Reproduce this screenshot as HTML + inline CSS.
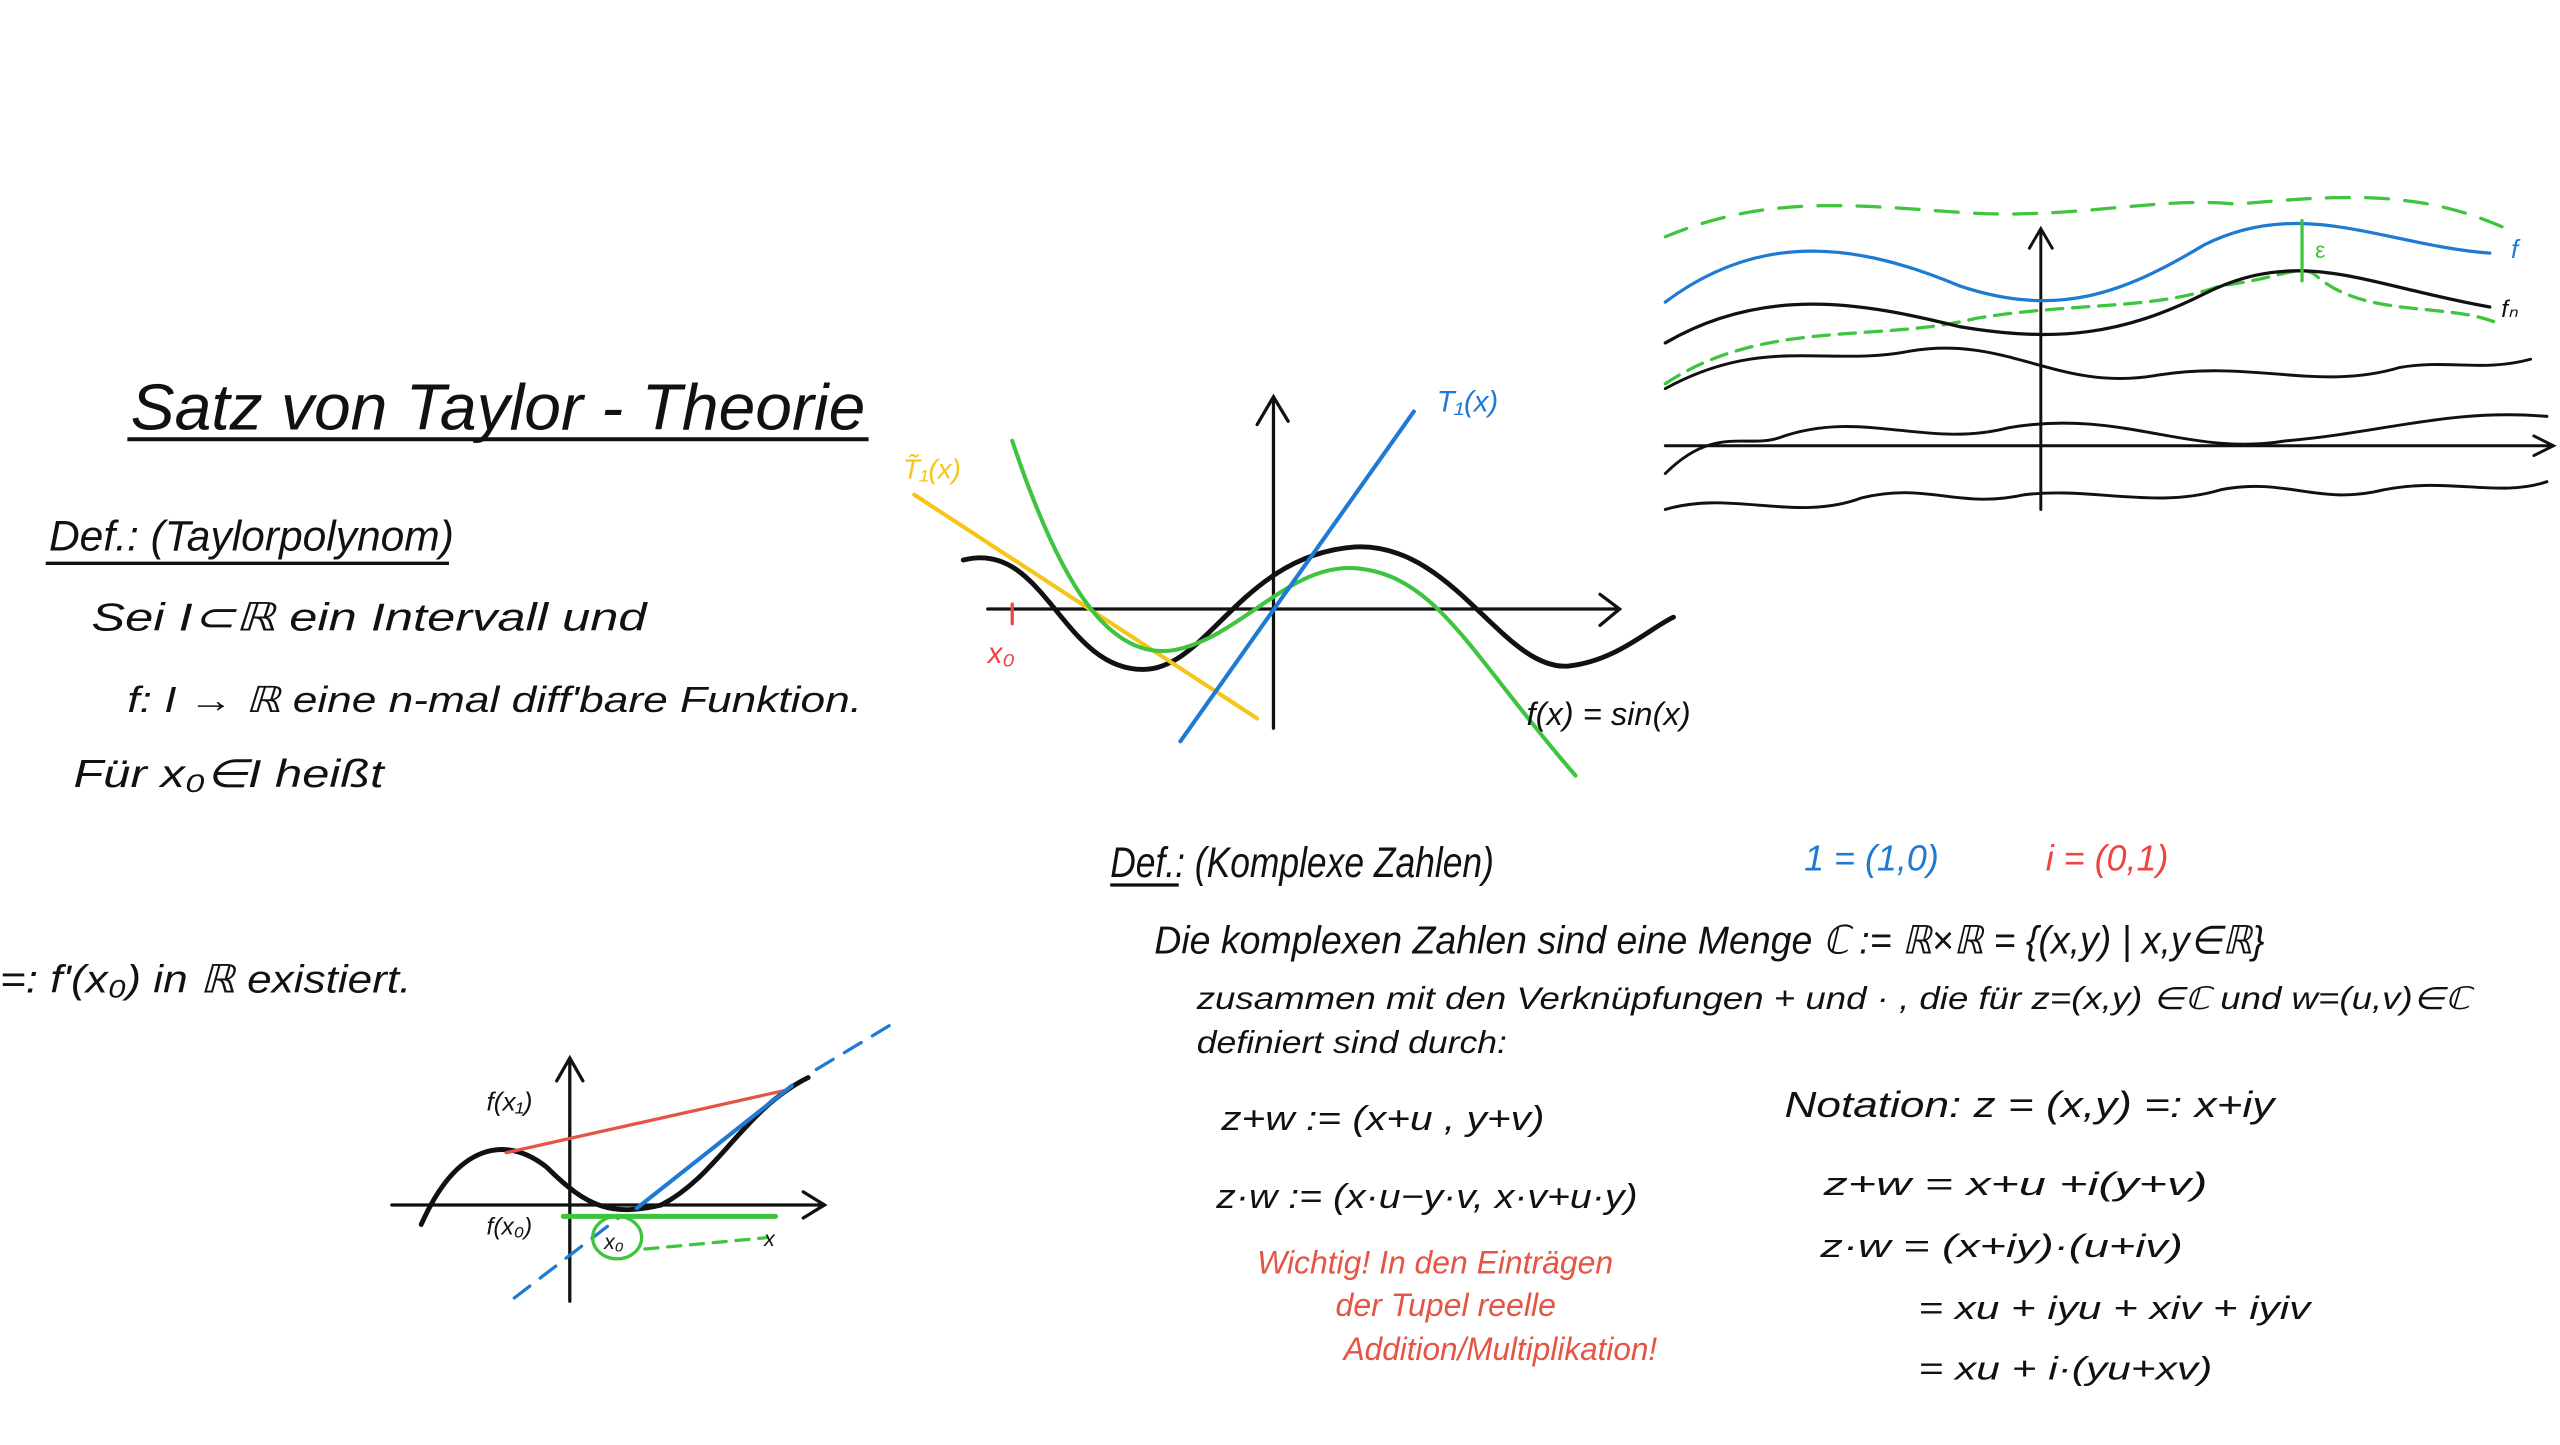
<!DOCTYPE html>
<html><head><meta charset="utf-8"><style>
html,body{margin:0;padding:0;background:#fff;}
svg{display:block}
text{font-family:"Liberation Sans",sans-serif;fill:#111;}
</style></head><body>
<svg width="2560" height="1445" viewBox="0 0 1568 885" xmlns="http://www.w3.org/2000/svg">
<rect width="1568" height="885" fill="#fff"/>
<!-- Title -->
<text x="80" y="263" font-size="40" font-style="italic" textLength="450" lengthAdjust="spacingAndGlyphs">Satz von Taylor - Theorie</text>
<line x1="78" y1="269" x2="532" y2="269" stroke="#111" stroke-width="2.5"/>
<text x="30" y="337" font-size="26" font-style="italic" textLength="248" lengthAdjust="spacingAndGlyphs">Def.: (Taylorpolynom)</text>
<line x1="28" y1="345" x2="275" y2="345" stroke="#111" stroke-width="2"/>
<text x="56" y="386" font-size="24" font-style="italic" textLength="340" lengthAdjust="spacingAndGlyphs">Sei I⊂ℝ ein Intervall und</text>
<text x="78" y="436" font-size="22" font-style="italic" textLength="450" lengthAdjust="spacingAndGlyphs">f: I → ℝ eine n-mal diff'bare Funktion.</text>
<text x="45" y="482" font-size="24" font-style="italic" textLength="190" lengthAdjust="spacingAndGlyphs">Für x₀∈I heißt</text>
<text x="0" y="608" font-size="24" font-style="italic" textLength="252" lengthAdjust="spacingAndGlyphs">=: f'(x₀)  in ℝ existiert.</text>

<!-- Middle graph -->
<g fill="none" stroke-linecap="round">
<path d="M780 446 L780 245 M770 260 L780 243 L789 258" stroke="#111" stroke-width="2"/>
<path d="M605 373 L990 373 M980 364 L992 373 L980 383" stroke="#111" stroke-width="2"/>
<path d="M590 343 C640 330 650 410 700 410 C740 410 760 340 830 335 C890 332 920 410 960 408 C990 405 1010 385 1025 378" stroke="#111" stroke-width="3"/>
<path d="M560 303 L770 440" stroke="#f5c518" stroke-width="2.5"/>
<path d="M620 270 C650 360 680 405 720 398 C760 390 790 345 830 348 C880 352 900 400 965 475" stroke="#3ec43e" stroke-width="2.5"/>
<path d="M723 454 L866 252" stroke="#1f7ad4" stroke-width="2.5"/>
<path d="M620 370 L620 382" stroke="#e44" stroke-width="2"/>
</g>
<text x="880" y="252" font-size="18" fill="#1f7ad4" style="fill:#1f7ad4" font-style="italic">T₁(x)</text>
<text x="553" y="293" font-size="17" style="fill:#f5c518" font-style="italic">T̃₁(x)</text>
<text x="605" y="406" font-size="18" style="fill:#e44" font-style="italic">x₀</text>
<text x="935" y="444" font-size="20" font-style="italic">f(x) = sin(x)</text>

<!-- Top-right graph -->
<g fill="none" stroke-linecap="round">
<path d="M1250 312 L1250 142 M1243 152 L1250 140 L1257 152" stroke="#111" stroke-width="1.8"/>
<path d="M1020 273 L1562 273 M1552 267 L1564 273 L1552 279" stroke="#111" stroke-width="1.8"/>
<path d="M1020 185 C1080 140 1140 150 1200 175 C1260 195 1300 180 1350 150 C1410 120 1460 150 1525 155" stroke="#1f7ad4" stroke-width="2"/>
<path d="M1020 145 C1080 120 1130 125 1200 130 C1270 135 1320 120 1370 125 C1430 120 1480 115 1535 140" stroke="#3ec43e" stroke-width="2" stroke-dasharray="14 10"/>
<path d="M1020 235 C1080 195 1150 210 1210 195 C1270 185 1320 190 1360 175 C1400 170 1410 160 1420 170 C1450 195 1500 185 1530 198" stroke="#3ec43e" stroke-width="2" stroke-dasharray="10 6"/>
<path d="M1020 210 C1080 175 1140 185 1200 200 C1260 210 1300 205 1350 180 C1410 150 1450 175 1525 188" stroke="#111" stroke-width="2"/>
<path d="M1020 238 C1080 205 1120 225 1170 215 C1230 205 1260 240 1320 230 C1380 220 1420 240 1470 225 C1500 220 1520 228 1550 220" stroke="#111" stroke-width="1.8"/>
<path d="M1020 290 C1050 260 1070 275 1090 268 C1140 250 1180 275 1230 262 C1300 250 1340 280 1400 270 C1460 265 1500 250 1560 255" stroke="#111" stroke-width="1.8"/>
<path d="M1020 312 C1060 300 1100 320 1140 305 C1180 295 1200 312 1240 303 C1280 298 1320 312 1360 300 C1400 292 1420 310 1460 300 C1500 292 1530 305 1560 295" stroke="#111" stroke-width="1.8"/>
<path d="M1410 135 L1410 172" stroke="#3ec43e" stroke-width="2"/>
</g>
<text x="1418" y="158" font-size="14" style="fill:#3ec43e">ε</text>
<text x="1538" y="158" font-size="16" style="fill:#1f7ad4" font-style="italic">f</text>
<text x="1532" y="194" font-size="15" font-style="italic">fₙ</text>

<!-- Bottom-left graph -->
<g fill="none" stroke-linecap="round">
<path d="M349 797 L349 650 M341 662 L349 648 L357 662" stroke="#111" stroke-width="2"/>
<path d="M240 738 L505 738 M492 730 L505 738 L492 746" stroke="#111" stroke-width="2"/>
<path d="M258 750 C280 700 310 695 335 715 C360 740 375 745 405 738 C440 720 455 680 495 660" stroke="#111" stroke-width="3"/>
<path d="M310 706 L480 668" stroke="#e45545" stroke-width="2"/>
<path d="M390 740 L485 665" stroke="#1f7ad4" stroke-width="2.5"/>
<path d="M315 795 L380 745 M500 655 L545 628" stroke="#1f7ad4" stroke-width="2" stroke-dasharray="12 8"/>
<path d="M345 745 L475 745" stroke="#3ec43e" stroke-width="3"/>
<ellipse cx="378" cy="758" rx="15" ry="13" stroke="#3ec43e" stroke-width="2"/>
<path d="M395 765 L470 758" stroke="#3ec43e" stroke-width="2" stroke-dasharray="8 6"/>
</g>
<text x="298" y="680" font-size="16" font-style="italic">f(x₁)</text>
<text x="298" y="756" font-size="15" font-style="italic">f(x₀)</text>
<text x="370" y="765" font-size="13" font-style="italic">x₀</text>
<text x="468" y="763" font-size="13" font-style="italic">x</text>

<!-- Complex numbers -->
<text x="680" y="537" font-size="26" font-style="italic" textLength="235" lengthAdjust="spacingAndGlyphs">Def.: (Komplexe Zahlen)</text>
<line x1="680" y1="542" x2="722" y2="542" stroke="#111" stroke-width="2"/>
<text x="1105" y="533" font-size="22" style="fill:#1f7ad4" font-style="italic">1 = (1,0)</text>
<text x="1253" y="533" font-size="22" style="fill:#e44" font-style="italic">i = (0,1)</text>
<text x="707" y="584" font-size="24" font-style="italic" textLength="680" lengthAdjust="spacingAndGlyphs">Die komplexen Zahlen sind eine Menge ℂ := ℝ×ℝ = {(x,y) | x,y∈ℝ}</text>
<text x="733" y="618" font-size="19" font-style="italic" textLength="780" lengthAdjust="spacingAndGlyphs">zusammen mit den Verknüpfungen + und · , die für z=(x,y) ∈ℂ und w=(u,v)∈ℂ</text>
<text x="733" y="645" font-size="19" font-style="italic" textLength="190" lengthAdjust="spacingAndGlyphs">definiert sind durch:</text>
<text x="748" y="692" font-size="21" font-style="italic" textLength="198" lengthAdjust="spacingAndGlyphs">z+w := (x+u , y+v)</text>
<text x="745" y="740" font-size="21" font-style="italic" textLength="258" lengthAdjust="spacingAndGlyphs">z·w := (x·u−y·v, x·v+u·y)</text>
<text x="770" y="780" font-size="20" font-style="italic" style="fill:#e45545" textLength="218" lengthAdjust="spacingAndGlyphs">Wichtig! In den Einträgen</text>
<text x="818" y="806" font-size="20" font-style="italic" style="fill:#e45545" textLength="135" lengthAdjust="spacingAndGlyphs">der Tupel reelle</text>
<text x="823" y="833" font-size="20" font-style="italic" style="fill:#e45545" textLength="192" lengthAdjust="spacingAndGlyphs">Addition/Multiplikation!</text>
<text x="1093" y="684" font-size="22" font-style="italic" textLength="300" lengthAdjust="spacingAndGlyphs">Notation:   z = (x,y) =: x+iy</text>
<text x="1117" y="732" font-size="20" font-style="italic" textLength="235" lengthAdjust="spacingAndGlyphs">z+w   =  x+u +i(y+v)</text>
<text x="1115" y="770" font-size="20" font-style="italic" textLength="222" lengthAdjust="spacingAndGlyphs">z·w   =  (x+iy)·(u+iv)</text>
<text x="1175" y="808" font-size="20" font-style="italic" textLength="240" lengthAdjust="spacingAndGlyphs">= xu + iyu + xiv + iyiv</text>
<text x="1175" y="845" font-size="20" font-style="italic" textLength="180" lengthAdjust="spacingAndGlyphs">= xu + i·(yu+xv)</text>
</svg>
</body></html>
